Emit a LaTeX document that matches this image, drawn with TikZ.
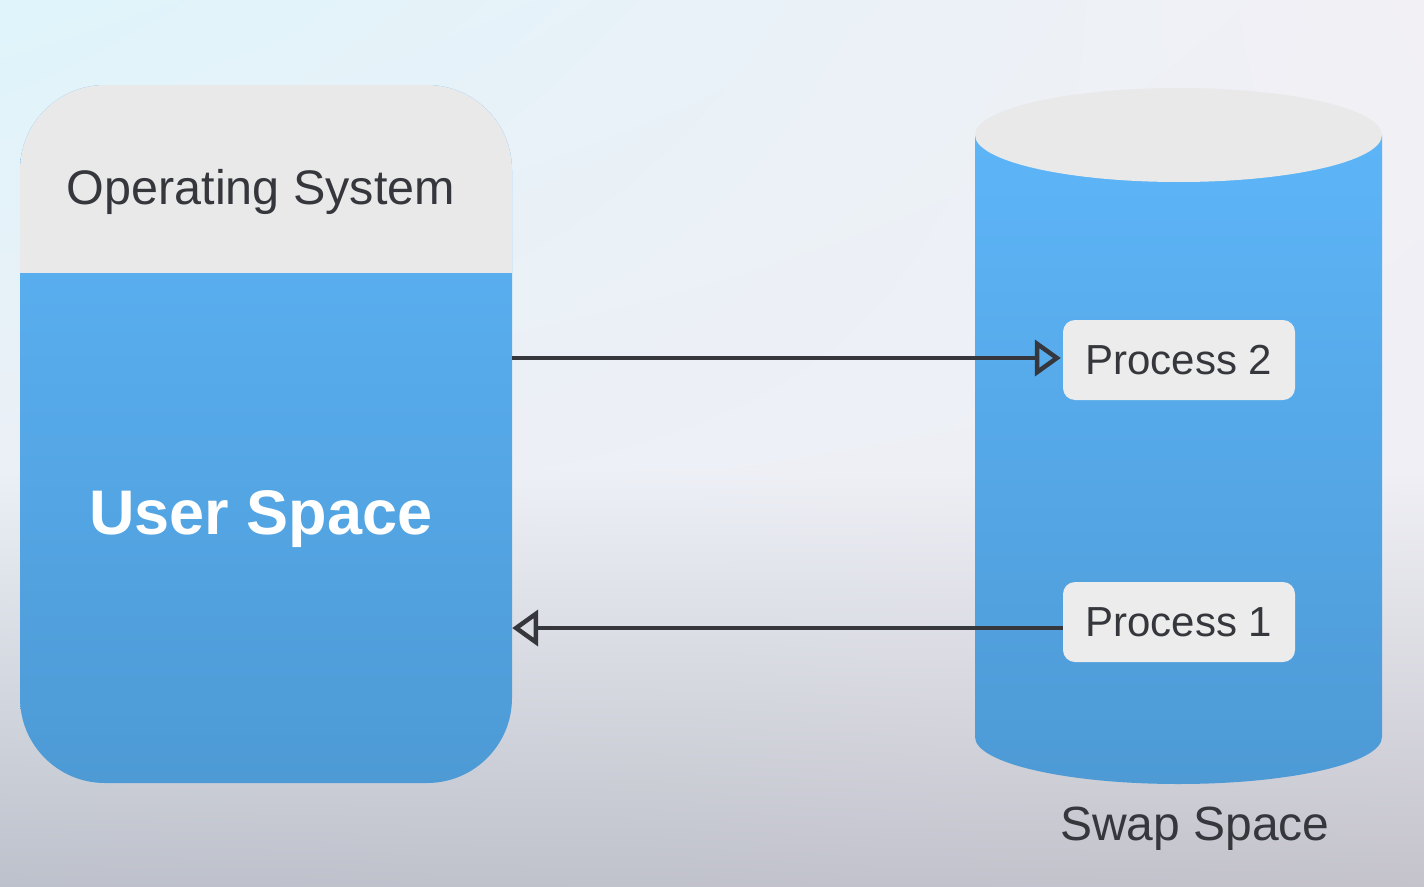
\documentclass[tikz,border=0pt]{standalone}
\usepackage{fontspec}
\setmainfont{Liberation Sans}
\usetikzlibrary{arrows.meta,shadings}
\definecolor{txt}{HTML}{36373C}
\definecolor{osgray}{HTML}{E9E9EA}
\definecolor{bluetop}{HTML}{5DB5F8}
\definecolor{bluebot}{HTML}{4D9AD5}
\definecolor{bgtl}{HTML}{DFF4FB}
\definecolor{bgtr}{HTML}{F2F0F5}
\definecolor{bgml}{HTML}{EBF0F6}
\definecolor{bgmr}{HTML}{EFEFF5}
\definecolor{bgbl}{HTML}{BDC1CB}
\definecolor{bgbr}{HTML}{C4C3CC}
\definecolor{boxfill}{HTML}{ECECEC}
\tikzset{
  lbl/.style={text=txt, inner sep=0pt},
  procbox/.style={fill=boxfill, rounded corners=12pt, minimum width=232pt, minimum height=80pt, inner sep=0pt, text=txt, font=\fontsize{42}{50}\selectfont},
  flow/.style={draw=txt, line width=4.5pt, -{Triangle[open, length=26pt, width=36pt, line width=4.5pt]}},
}
\begin{document}
\begin{tikzpicture}[x=1pt, y=-1pt]
\useasboundingbox (0,0) rectangle (1424,886);
% background
\shade[upper left=bgtl, upper right=bgtr, lower left=bgml, lower right=bgmr] (0,0) rectangle (1424,470);
\shade[upper left=bgml, upper right=bgmr, lower left=bgbl, lower right=bgbr] (0,469.5) rectangle (1424,886);
% memory box
\shade[top color=bluetop, bottom color=bluebot, rounded corners=85pt] (20,85) rectangle (512,783);
\begin{scope}
  \clip[rounded corners=85pt] (20,85) rectangle (512,783);
  \fill[osgray] (20,85) rectangle (512,273);
\end{scope}
\node[inner sep=0pt, minimum width=492pt, minimum height=698pt] (mem) at (266,434) {};
\node[lbl, font=\fontsize{48.5}{58}\selectfont] (os) at (261,192) {Operating System};
\node[lbl, text=white, font=\fontsize{63}{72}\bfseries\selectfont] (us) at (261,519) {User Space};
% swap cylinder
\shade[top color=bluetop, bottom color=bluebot] (975,135) -- (975,737) arc[start angle=180, end angle=360, x radius=203.5pt, y radius=47pt] -- (1382,135) -- cycle;
\fill[osgray] (1178.5,135) ellipse[x radius=203.5pt, y radius=47pt];
\node[inner sep=0pt, minimum width=407pt, minimum height=697pt] (swap) at (1178.5,435.5) {};
\node[lbl, font=\fontsize{48}{56}\selectfont] (swaplbl) at (1195,829) {Swap Space};
% processes
\node[procbox] (p2) at (1179,360) {Process 2};
\node[procbox] (p1) at (1179,622) {Process 1};
% arrows
\draw[flow] (mem.east |- 0,358) -- ([xshift=-2pt, yshift=2pt]p2.west);
\draw[flow] ([yshift=-6pt]p1.west) -- (mem.east |- 0,628);
\end{tikzpicture}
\end{document}
